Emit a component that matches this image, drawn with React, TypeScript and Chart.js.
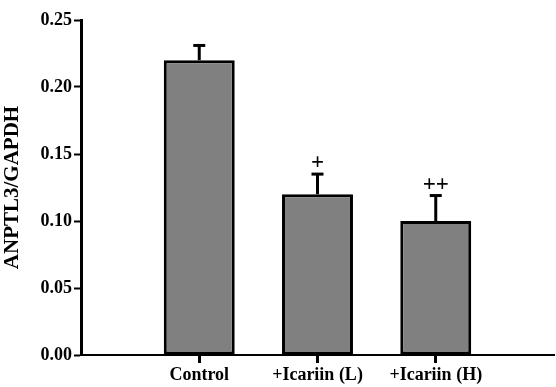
import React, { useEffect, useRef } from "react";
import { Chart, registerables } from "chart.js";

Chart.register(...registerables);

const categories = ["", "Control", "+Icariin (L)", "+Icariin (H)", ""];
const means = [null, 0.22, 0.12, 0.1, null];
const errors = [null, 0.011, 0.015, 0.019, null];
const marks = ["", "", "+", "++", ""];
const yTicks = [0, 0.05, 0.1, 0.15, 0.2, 0.25];

const FONT = "'Liberation Serif', 'Times New Roman', serif";

const errorBarPlugin = {
  id: "errorBars",
  afterDatasetsDraw(chart: any) {
    const ctx = chart.ctx;
    const meta = chart.getDatasetMeta(0);
    const y = chart.scales.y;
    ctx.save();
    meta.data.forEach((bar: any, i: number) => {
      const m = means[i];
      const e = errors[i];
      if (m == null || e == null) return;
      const x = bar.x;
      const yTop = y.getPixelForValue(m);
      const yCap = y.getPixelForValue(m + e);
      ctx.strokeStyle = "#000";
      ctx.lineWidth = 3;
      ctx.beginPath();
      ctx.moveTo(x, yTop);
      ctx.lineTo(x, yCap);
      ctx.stroke();
      ctx.beginPath();
      ctx.moveTo(x - 6, yCap);
      ctx.lineTo(x + 6, yCap);
      ctx.stroke();
      const mk = marks[i];
      if (mk) {
        ctx.fillStyle = "#000";
        ctx.font = `bold 23px ${FONT}`;
        ctx.textAlign = "center";
        ctx.textBaseline = "alphabetic";
        ctx.fillText(mk, x, yCap - 5);
      }
    });
    ctx.restore();
  },
};

export default function App() {
  const ref = useRef<HTMLCanvasElement>(null);
  useEffect(() => {
    if (!ref.current) return;
    const chart = new Chart(ref.current, {
      type: "bar",
      data: {
        labels: categories,
        datasets: [
          {
            data: means as any,
            backgroundColor: "#808080",
            borderColor: "#000",
            borderWidth: 3,
            borderSkipped: false,
            barPercentage: 0.6,
            categoryPercentage: 1,
          },
        ],
      },
      options: {
        responsive: false,
        animation: false,
        layout: { padding: { top: 20, right: 0, left: 0, bottom: 0 } },
        plugins: { legend: { display: false }, tooltip: { enabled: false } },
        scales: {
          x: {
            offset: false,
            grid: {
              display: true,
              offset: false,
              drawOnChartArea: false,
              drawTicks: true,
              tickLength: 8,
              tickWidth: 3,
              tickColor: (c: any) =>
                c.index === 0 || c.index === categories.length - 1 ? "rgba(0,0,0,0)" : "#000",
            },
            border: { display: true, color: "#000", width: 2 },
            ticks: {
              color: "#000",
              padding: 2,
              maxRotation: 0,
              autoSkip: false,
              font: { family: FONT, size: 18, weight: "bold" },
            },
            afterFit: (s: any) => {
              s.height = 32;
            },
          },
          y: {
            min: 0,
            max: 0.25,
            afterBuildTicks: (s: any) => {
              s.ticks = yTicks.map((v) => ({ value: v }));
            },
            grid: {
              display: true,
              drawOnChartArea: false,
              drawTicks: true,
              tickLength: 7,
              tickWidth: 2,
              tickColor: "#000",
            },
            border: { display: true, color: "#000", width: 3 },
            ticks: {
              color: "#000",
              padding: 2,
              callback: (v: any) => Number(v).toFixed(2),
              font: { family: FONT, size: 18, weight: "bold" },
            },
            title: {
              display: true,
              text: "ANPTL3/GAPDH",
              color: "#000",
              padding: { top: 0, bottom: 2 },
              font: { family: FONT, size: 21, weight: "bold" },
            },
            afterFit: (s: any) => {
              s.width = 81;
            },
          },
        },
      },
      plugins: [errorBarPlugin],
    });
    return () => chart.destroy();
  }, []);
  return (
    <canvas
      ref={ref}
      width={556}
      height={387}
      style={{ position: "fixed", left: 0, top: 0, display: "block", background: "#fff" }}
    />
  );
}
